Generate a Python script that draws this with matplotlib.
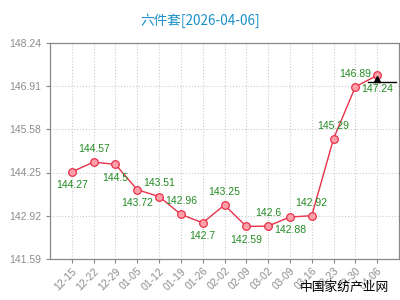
import matplotlib
matplotlib.use("Agg")
import matplotlib.pyplot as plt

dates = ["12-15", "12-22", "12-29", "01-05", "01-12", "01-19", "01-26", "02-02",
         "02-09", "03-02", "03-09", "03-16", "03-23", "03-30", "04-06"]
values = [144.27, 144.57, 144.5, 143.72, 143.51, 142.96, 142.7, 143.25,
          142.59, 142.6, 142.88, 142.92, 145.29, 146.89, 147.24]
yticks = [141.59, 142.92, 144.25, 145.58, 146.91, 148.24]
label_pos = ["below", "above", "below", "below", "above", "above", "below", "above",
             "below", "above", "below", "above", "above", "above", "below"]
ref_value = 147.05

plt.rcParams['font.family'] = ['Liberation Sans', 'Noto Sans CJK SC', 'DejaVu Sans']

fig = plt.figure(figsize=(4, 3), dpi=100)
ax = fig.add_axes([0.125, 0.137, 0.8725, 0.72])

x = list(range(len(dates)))
ax.plot(x, values, color="#e8314a", lw=1.0, marker="o", ms=5.5,
        mfc="#ff9fa8", mec="#e8314a", mew=0.9, zorder=3)

for i, (v, p) in enumerate(zip(values, label_pos)):
    dy = 9.5 if p == "above" else -9.5
    ax.annotate(f"{v:g}", (i, v), xytext=(0, dy), textcoords="offset points",
                ha="center", va="center", fontsize=7.5, color="#228b22", zorder=4)

# last value marker line
ax.plot([13.6, 14.85], [ref_value, ref_value], color="black", lw=1.0, zorder=5)
ax.plot([14], [ref_value + 0.08], marker="^", color="black", ms=4, zorder=5)

ax.set_xlim(-1, 15)
ax.set_ylim(yticks[0], yticks[-1])
ax.set_yticks(yticks)
ax.set_yticklabels([f"{t:.2f}" for t in yticks])
ax.set_xticks(x)
ax.set_xticklabels(dates, rotation=45, ha="right", rotation_mode="anchor")
ax.tick_params(axis="both", colors="#888888", labelsize=7.5, length=3, width=0.8)
ax.tick_params(axis="x", pad=2)
for lab in ax.get_xticklabels() + ax.get_yticklabels():
    lab.set_color("#8c8c8c")
ax.grid(True, color="#cccccc", ls=":", lw=0.8)
for s in ax.spines.values():
    s.set_color("#888888")
    s.set_linewidth(0.9)

fig.text(0.5, 0.932, "六件套[2026-04-06]", ha="center", va="center",
         fontsize=9.8, color="#1a8fc8", family=['Noto Sans CJK SC', 'DejaVu Sans'])
fig.text(0.972, 0.043, "中国家纺产业网", ha="right", va="center",
         fontsize=9.2, color="black", family=['Noto Sans CJK SC', 'DejaVu Sans'])

fig.savefig("out.png", dpi=100)
